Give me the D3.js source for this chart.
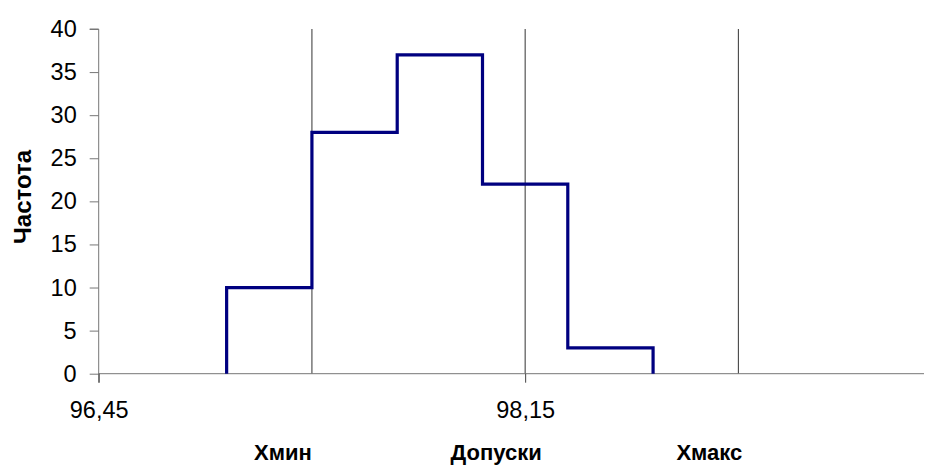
<!DOCTYPE html>
<html><head><meta charset="utf-8">
<script src="https://cdn.jsdelivr.net/npm/d3@7"></script>
<style>body{margin:0;background:#fff}svg{display:block}text{font-family:"Liberation Sans",Arial,sans-serif}</style>
</head><body><svg id="c" width="925" height="466"></svg>
<script>
const binEdges = [96.96, 97.30, 97.64, 97.98, 98.32, 98.66];
const frequencies = [10, 28, 37, 22, 3];
const xTicks = [96.45, 98.15];
const yTicks = [0, 5, 10, 15, 20, 25, 30, 35, 40];
const refLines = [97.30, 98.15, 99.00];
const refLabels = ["Хмин", "Допуски", "Хмакс"];
const yTitle = "Частота";

const svg = d3.select("#c");
const x = d3.scaleLinear().domain([96.45, 99.74]).range([98.7, 924]);
const y = d3.scaleLinear().domain([0, 40]).range([373.7, 29]);

// reference vertical lines
svg.selectAll("line.ref").data(refLines).enter().append("line")
  .attr("x1", d => x(d)).attr("x2", d => x(d))
  .attr("y1", y(40)).attr("y2", y(0))
  .attr("stroke", "#333").attr("stroke-width", 1);

// y axis
const ya = svg.append("g").attr("transform", `translate(${x(96.45)},0)`)
  .call(d3.axisLeft(y).tickValues(yTicks).tickSize(9).tickPadding(13).tickFormat(d3.format("d")));
ya.select(".domain").attr("stroke", "#777").attr("d", `M-9,${y(40)}H0V${y(0)+9}`);
ya.selectAll(".tick line").attr("stroke", "#777");
ya.selectAll("text").attr("font-size", 23.5).attr("fill", "#000");

// x axis
const xa = svg.append("g").attr("transform", `translate(0,${y(0)})`)
  .call(d3.axisBottom(x).tickValues(xTicks).tickSize(9).tickPadding(19)
    .tickFormat(d => d3.format(".2f")(d).replace(".", ",")));
xa.select(".domain").attr("stroke", "#777").attr("d", `M${x(96.45)},0H924`);
xa.selectAll(".tick line").attr("stroke", "#444");
xa.selectAll("text").attr("font-size", 23.5).attr("fill", "#000");

// step histogram
const pts = [[binEdges[0], 0]];
frequencies.forEach((f, i) => { pts.push([binEdges[i], f]); pts.push([binEdges[i + 1], f]); });
pts.push([binEdges[binEdges.length - 1], 0]);
svg.append("path").datum(pts)
  .attr("d", d3.line().x(d => x(d[0])).y(d => y(d[1])))
  .attr("fill", "none").attr("stroke", "#000080").attr("stroke-width", 3.2)
  .attr("stroke-linejoin", "miter");

// labels under reference lines
svg.selectAll("text.rl").data(refLines).enter().append("text")
  .attr("x", d => x(d) - 29).attr("y", 460)
  .attr("text-anchor", "middle").attr("font-size", 22).attr("font-weight", "bold")
  .text((d, i) => refLabels[i]);

// y title
svg.append("text").attr("transform", "translate(31,197) rotate(-90)")
  .attr("text-anchor", "middle").attr("font-size", 24).attr("font-weight", "bold")
  .text(yTitle);
</script></body></html>
